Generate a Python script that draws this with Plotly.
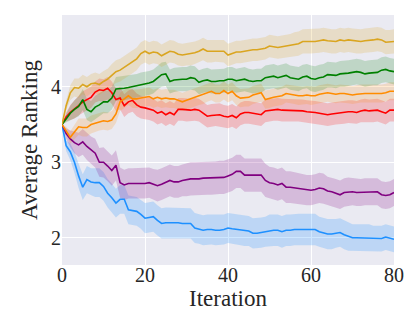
import plotly.graph_objects as go

iterations = list(range(81))

gold_mean = [3.50,3.75,3.92,3.99,3.98,4.03,4.00,4.04,4.05,4.03,
             4.07,4.10,4.15,4.20,4.22,4.26,4.29,4.33,4.37,4.44,
             4.47,4.44,4.46,4.45,4.41,4.44,4.47,4.46,4.43,4.42,
             4.43,4.43,4.45,4.47,4.50,4.47,4.47,4.48,4.48,4.47,
             4.42,4.44,4.46,4.46,4.47,4.48,4.49,4.49,4.50,4.51,
             4.54,4.53,4.52,4.53,4.54,4.55,4.56,4.57,4.60,4.60,
             4.60,4.60,4.61,4.62,4.61,4.60,4.60,4.62,4.61,4.62,
             4.61,4.60,4.60,4.61,4.62,4.62,4.63,4.62,4.59,4.59,4.60]
green_mean = [3.50,3.58,3.65,3.70,3.74,3.83,3.70,3.67,3.73,3.76,
              3.80,3.80,3.85,3.97,3.98,3.98,3.99,4.00,4.01,4.03,
              4.04,4.05,4.07,4.12,4.16,4.17,4.07,4.09,4.10,4.10,
              4.10,4.12,4.11,4.06,4.08,4.09,4.07,4.07,4.08,4.08,
              4.10,4.10,4.08,4.09,4.10,4.08,4.07,4.08,4.08,4.12,
              4.13,4.14,4.12,4.14,4.15,4.12,4.11,4.10,4.13,4.14,
              4.11,4.10,4.12,4.13,4.16,4.16,4.15,4.17,4.17,4.18,
              4.19,4.20,4.19,4.17,4.18,4.19,4.19,4.22,4.23,4.21,4.20]
orange_mean = [3.50,3.42,3.33,3.40,3.47,3.46,3.46,3.50,3.52,3.54,
               3.55,3.54,3.56,3.64,3.80,3.84,3.88,3.84,3.84,3.85,
               3.86,3.87,3.84,3.86,3.84,3.85,3.84,3.84,3.82,3.80,
               3.82,3.84,3.86,3.88,3.89,3.92,3.94,3.91,3.91,3.95,
               3.91,3.94,3.88,3.85,3.86,3.86,3.89,3.91,3.92,3.83,
               3.84,3.86,3.87,3.88,3.91,3.90,3.89,3.88,3.88,3.89,
               3.88,3.88,3.90,3.91,3.92,3.91,3.90,3.91,3.91,3.90,
               3.89,3.90,3.91,3.91,3.91,3.91,3.91,3.91,3.92,3.94,3.94]
red_mean = [3.50,3.60,3.66,3.70,3.75,3.80,3.83,3.86,3.93,3.96,
            3.95,3.98,3.92,3.83,3.85,3.75,3.80,3.82,3.76,3.73,
            3.72,3.71,3.69,3.65,3.67,3.63,3.66,3.63,3.70,3.70,
            3.69,3.69,3.70,3.69,3.65,3.61,3.62,3.63,3.63,3.61,
            3.60,3.62,3.59,3.64,3.66,3.66,3.65,3.64,3.63,3.68,
            3.69,3.70,3.70,3.69,3.69,3.69,3.69,3.69,3.68,3.67,
            3.67,3.66,3.65,3.64,3.63,3.64,3.65,3.65,3.66,3.67,
            3.67,3.66,3.68,3.69,3.68,3.68,3.69,3.67,3.65,3.69,3.69]
purple_mean = [3.50,3.38,3.31,3.26,3.23,3.27,3.21,3.16,3.12,3.00,
               3.00,2.95,2.89,2.96,2.73,2.70,2.72,2.72,2.72,2.72,
               2.72,2.73,2.71,2.69,2.71,2.73,2.76,2.74,2.74,2.76,
               2.77,2.78,2.78,2.78,2.79,2.79,2.79,2.79,2.80,2.80,
               2.82,2.84,2.88,2.88,2.83,2.83,2.83,2.83,2.83,2.76,
               2.73,2.72,2.70,2.72,2.67,2.67,2.66,2.65,2.64,2.63,
               2.63,2.64,2.66,2.65,2.62,2.61,2.59,2.57,2.60,2.61,
               2.61,2.60,2.60,2.61,2.61,2.61,2.61,2.57,2.56,2.57,2.60]
blue_mean = [3.50,3.22,3.14,3.00,2.82,2.67,2.77,2.74,2.73,2.73,
             2.68,2.59,2.53,2.46,2.51,2.51,2.37,2.36,2.35,2.31,
             2.26,2.27,2.28,2.23,2.19,2.20,2.20,2.20,2.20,2.19,
             2.19,2.19,2.13,2.12,2.10,2.11,2.11,2.10,2.10,2.11,
             2.13,2.12,2.11,2.10,2.09,2.09,2.06,2.06,2.07,2.08,
             2.10,2.10,2.10,2.08,2.10,2.10,2.11,2.11,2.11,2.11,
             2.11,2.11,2.08,2.06,2.05,2.05,2.06,2.07,2.04,2.02,
             2.00,2.00,2.00,2.00,2.00,1.99,1.99,1.99,2.01,2.00,1.98]

gold_sd = [0.00,0.06,0.10,0.12,0.13,0.13,0.13,0.13,0.14,0.14,
           0.14,0.14,0.15,0.15,0.15,0.15,0.15,0.15,0.15,0.15,
           0.15,0.15,0.15,0.15,0.15,0.15,0.15,0.15,0.15,0.15,
           0.15,0.15,0.15,0.15,0.15,0.15,0.15,0.15,0.15,0.15,
           0.15,0.15,0.15,0.15,0.15,0.15,0.15,0.15,0.15,0.15,
           0.15,0.15,0.15,0.15,0.15,0.15,0.16,0.16,0.16,0.16,
           0.16,0.16,0.16,0.16,0.16,0.16,0.16,0.16,0.16,0.16,
           0.16,0.16,0.16,0.16,0.16,0.16,0.16,0.16,0.16,0.16,0.16]
green_sd = [0.00,0.06,0.10,0.12,0.13,0.14,0.14,0.14,0.15,0.15,
            0.15,0.15,0.15,0.16,0.16,0.16,0.16,0.16,0.16,0.16,
            0.16,0.16,0.16,0.16,0.16,0.16,0.16,0.16,0.16,0.16,
            0.16,0.16,0.16,0.16,0.16,0.16,0.16,0.16,0.16,0.16,
            0.16,0.16,0.16,0.16,0.16,0.16,0.16,0.16,0.16,0.16,
            0.16,0.16,0.16,0.16,0.16,0.16,0.16,0.16,0.16,0.16,
            0.17,0.17,0.17,0.17,0.17,0.17,0.17,0.17,0.17,0.17,
            0.17,0.17,0.17,0.17,0.17,0.17,0.17,0.17,0.17,0.17,0.17]
orange_sd = [0.00,0.05,0.08,0.10,0.11,0.12,0.12,0.12,0.12,0.12,
             0.12,0.12,0.12,0.12,0.12,0.12,0.12,0.12,0.12,0.12,
             0.12,0.12,0.12,0.12,0.12,0.12,0.12,0.12,0.12,0.12,
             0.12,0.12,0.12,0.12,0.12,0.12,0.12,0.12,0.12,0.12,
             0.12,0.12,0.12,0.12,0.12,0.12,0.12,0.12,0.12,0.12,
             0.12,0.12,0.12,0.12,0.12,0.12,0.12,0.12,0.12,0.12,
             0.12,0.12,0.12,0.12,0.12,0.12,0.12,0.12,0.12,0.12,
             0.12,0.12,0.12,0.12,0.12,0.12,0.12,0.12,0.12,0.12,0.12]
red_sd = [0.00,0.06,0.10,0.12,0.13,0.14,0.14,0.14,0.14,0.15,
          0.15,0.15,0.15,0.15,0.15,0.15,0.15,0.15,0.15,0.15,
          0.15,0.15,0.15,0.15,0.15,0.15,0.15,0.15,0.15,0.15,
          0.15,0.15,0.15,0.15,0.15,0.15,0.15,0.15,0.15,0.15,
          0.15,0.15,0.15,0.15,0.15,0.15,0.15,0.15,0.15,0.15,
          0.15,0.15,0.15,0.15,0.15,0.15,0.15,0.15,0.15,0.15,
          0.15,0.15,0.15,0.15,0.15,0.15,0.15,0.15,0.15,0.15,
          0.15,0.15,0.15,0.15,0.15,0.15,0.15,0.15,0.15,0.15,0.15]
purple_sd = [0.00,0.07,0.11,0.14,0.16,0.17,0.18,0.18,0.19,0.19,
             0.20,0.20,0.20,0.20,0.20,0.20,0.20,0.20,0.20,0.20,
             0.20,0.20,0.20,0.21,0.21,0.21,0.21,0.21,0.21,0.21,
             0.22,0.22,0.22,0.22,0.22,0.22,0.22,0.22,0.22,0.22,
             0.22,0.22,0.22,0.22,0.22,0.22,0.22,0.22,0.22,0.22,
             0.21,0.21,0.21,0.21,0.21,0.21,0.21,0.20,0.20,0.20,
             0.20,0.20,0.20,0.20,0.19,0.19,0.19,0.19,0.19,0.19,
             0.18,0.18,0.18,0.18,0.18,0.18,0.18,0.18,0.18,0.18,0.18]
blue_sd = [0.00,0.07,0.11,0.14,0.16,0.17,0.18,0.18,0.19,0.19,
           0.19,0.19,0.19,0.19,0.19,0.19,0.19,0.19,0.19,0.19,
           0.20,0.20,0.20,0.20,0.20,0.20,0.20,0.20,0.20,0.20,
           0.20,0.20,0.20,0.20,0.20,0.20,0.20,0.20,0.20,0.20,
           0.20,0.20,0.20,0.20,0.20,0.20,0.20,0.20,0.20,0.20,
           0.21,0.21,0.21,0.21,0.21,0.21,0.21,0.21,0.21,0.21,
           0.21,0.21,0.20,0.20,0.20,0.20,0.19,0.19,0.19,0.19,
           0.18,0.18,0.18,0.18,0.18,0.17,0.17,0.17,0.17,0.17,0.17]

series = [
    ("blue", blue_mean, blue_sd, "#1E90FF", "rgba(30,144,255,0.22)"),
    ("purple", purple_mean, purple_sd, "#800080", "rgba(128,0,128,0.2)"),
    ("red", red_mean, red_sd, "#FF0000", "rgba(255,0,0,0.2)"),
    ("orange", orange_mean, orange_sd, "#FF8C00", "rgba(255,140,0,0.18)"),
    ("green", green_mean, green_sd, "#008000", "rgba(0,128,0,0.18)"),
    ("gold", gold_mean, gold_sd, "#DAA520", "rgba(218,165,32,0.2)"),
]

fig = go.Figure()
for name, m, s, col, fcol in series:
    upper = [a + b for a, b in zip(m, s)]
    lower = [a - b for a, b in zip(m, s)]
    fig.add_trace(go.Scatter(x=iterations + iterations[::-1], y=upper + lower[::-1],
                             fill="toself", fillcolor=fcol, line=dict(width=0),
                             mode="lines", hoverinfo="skip", showlegend=False))
for name, m, s, col, fcol in series:
    fig.add_trace(go.Scatter(x=iterations, y=m, mode="lines", name=name,
                             line=dict(color=col, width=1.6), showlegend=False))

font_family = "Liberation Serif"
fig.update_layout(
    width=407, height=304,
    margin=dict(l=54, r=21, t=7, b=47),
    paper_bgcolor="white", plot_bgcolor="#EAEAF2",
    font=dict(family=font_family, color="#262626", size=20),
    showlegend=False,
)
fig.update_xaxes(range=[0, 80], tickvals=[0, 20, 40, 60, 80],
                 showgrid=True, gridcolor="white", gridwidth=1,
                 zeroline=False, showline=False, ticks="",
                 ticklabelstandoff=-4,
                 tickfont=dict(size=20, family=font_family),
                 title=dict(text="Iteration", font=dict(size=23, family=font_family), standoff=2),
                 automargin=False)
fig.update_yaxes(range=[1.64, 4.95], tickvals=[2, 3, 4],
                 showgrid=True, gridcolor="white", gridwidth=1,
                 zeroline=False, showline=False, ticks="",
                 tickfont=dict(size=20, family=font_family),
                 title=dict(text="Average Ranking", font=dict(size=23, family=font_family), standoff=6),
                 automargin=False)

fig.write_html("out.html")
